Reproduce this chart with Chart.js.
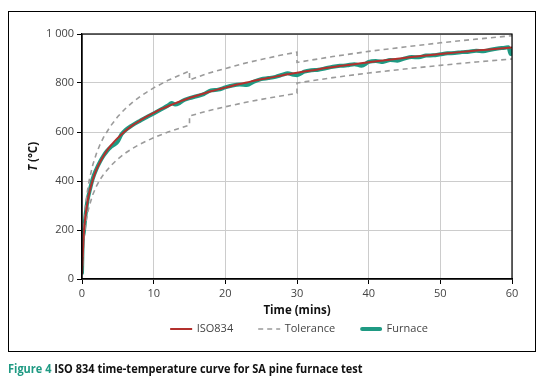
<!DOCTYPE html>
<html>
<head>
<meta charset="utf-8">
<script src="https://cdn.jsdelivr.net/npm/chart.js@4.4.1/dist/chart.umd.min.js"></script>
<style>
  body { margin: 0; background: #fff; width: 544px; height: 390px; overflow: hidden; position: relative; }
  #frame { position: absolute; left: 8px; top: 11px; width: 528px; height: 341px; box-sizing: border-box; border: 1px solid #000; pointer-events: none; }
  #c { position: absolute; left: 0; top: 0; }
  #caption { position: absolute; left: 8px; top: 360px; font-family: "Open Sans", sans-serif; font-weight: bold; font-size: 12.5px; color: #111; white-space: nowrap; transform: scaleX(0.88); transform-origin: left center; }
  #caption span { color: #1f9a83; }
</style>
</head>
<body>
<canvas id="c" width="544" height="352"></canvas>
<div id="frame"></div>
<div id="caption"><span>Figure 4</span> ISO 834 time-temperature curve for SA pine furnace test</div>
<script>
// ISO 834 standard curve
const isoTime = [0, 0.25, 0.5, 0.75, 1, 1.5, 2, 2.5, 3, 3.5, 4, 4.5, 5, 5.5, 6, 7, 8, 9, 10, 11, 12, 13, 14, 15,
  16, 17, 18, 19, 20, 21, 22, 23, 24, 25, 26, 27, 28, 29, 30, 32, 34, 36, 38, 40, 42, 44, 46, 48, 50, 52, 54, 56, 58, 60];
const isoTemp = [20, 185, 261, 312, 349, 404, 445, 476, 502, 525, 544, 561, 576, 590, 603, 626, 645, 663, 678, 693, 705, 717, 728, 739,
  748, 757, 766, 774, 781, 789, 796, 802, 809, 815, 820, 826, 832, 837, 842, 851, 861, 869, 877, 885, 892, 899, 906, 912, 918, 924, 930, 935, 940, 945];

// measured furnace temperature
const furnaceTime = [0, 0.1, 0.25, 0.5, 0.75, 1, 1.5, 2, 2.5, 3, 3.5, 4, 4.5, 5, 5.5, 6, 7, 8, 9, 10, 11, 12, 12.5, 13, 13.5, 14, 15,
  16, 17, 18, 19, 20, 21, 22, 23, 24, 25, 26, 27, 28, 28.7, 29.5, 30, 31, 32, 33, 34, 35, 36, 37, 38, 39, 40,
  41, 42, 43, 44, 45, 46, 47, 48, 49, 50, 51, 52, 53, 54, 55, 56, 57, 58, 59, 59.5, 59.8, 60];
const furnaceTemp = [25, 155, 190, 262, 318, 352, 410, 448, 478, 503, 523, 538, 548, 562, 590, 606, 627, 644, 660, 676, 692, 708, 718, 712, 716, 727, 738,
  746, 755, 770, 773, 782, 790, 794, 792, 806, 816, 820, 825, 834, 840, 834, 832, 846, 852, 854, 860, 866, 870, 872, 877, 870, 886,
  890, 886, 894, 891, 900, 906, 905, 912, 913, 917, 921, 922, 926, 928, 932, 930, 936, 941, 944, 946, 918, 932];

// tolerance band: +/-15 % to 15 min, +/-10 % to 30 min, +/-5 % to 60 min
const tolUpperTime = [0, 0.25, 0.5, 0.75, 1, 1.5, 2, 2.5, 3, 4, 5, 6, 7, 8, 9, 10, 12, 15, 15, 17.5, 20, 22.5, 25, 27.5, 30, 30, 35, 40, 45, 50, 55, 60];
const tolUpperTemp = [23, 212, 300, 358, 402, 465, 511, 548, 578, 625, 663, 694, 720, 742, 762, 780, 811, 849, 812, 839, 859, 879, 896, 912, 926, 884, 908, 929, 947, 964, 979, 993];
const tolLowerTime = [0, 0.25, 0.5, 0.75, 1, 1.5, 2, 2.5, 3, 4, 5, 6, 7, 8, 9, 10, 12, 15, 15, 17.5, 20, 22.5, 25, 27.5, 30, 30, 35, 40, 45, 50, 55, 60];
const tolLowerTemp = [17, 157, 222, 265, 297, 344, 378, 405, 427, 462, 490, 513, 532, 549, 563, 577, 600, 628, 665, 686, 703, 719, 733, 746, 758, 800, 822, 841, 857, 872, 886, 898];

const xTicks = [0, 10, 20, 30, 40, 50, 60];
const yTickLabels = ['0', '200', '400', '600', '800', '1 000'];

const pts = (xs, ys) => xs.map((x, i) => ({ x: x, y: ys[i] }));
const tolPoints = pts(tolUpperTime, tolUpperTemp).concat([{ x: 60, y: null }], pts(tolLowerTime, tolLowerTemp));

const FONT = '"Open Sans", sans-serif';

// black box round the plot area
const plotBox = {
  id: 'plotBox',
  afterDatasetsDraw(chart) {
    const a = chart.chartArea, ctx = chart.ctx;
    ctx.save();
    ctx.strokeStyle = '#000';
    ctx.lineWidth = 1.2;
    ctx.strokeRect(a.left, a.top, a.right - a.left, a.bottom - a.top);
    ctx.restore();
  }
};

// y title with italic T
const yTitle = {
  id: 'yTitle',
  afterDraw(chart) {
    const a = chart.chartArea, ctx = chart.ctx;
    const fi = 'italic bold 11.5px ' + FONT, fb = 'bold 11.5px ' + FONT;
    ctx.save();
    ctx.translate(34, (a.top + a.bottom) / 2);
    ctx.rotate(-Math.PI / 2);
    ctx.fillStyle = '#111';
    ctx.textBaseline = 'middle';
    ctx.textAlign = 'left';
    ctx.font = fi;
    const w1 = ctx.measureText('T').width;
    ctx.font = fb;
    const w2 = ctx.measureText(' (°C)').width;
    const x = -(w1 + w2) / 2;
    ctx.font = fi;
    ctx.fillText('T', x, 0);
    ctx.font = fb;
    ctx.fillText(' (°C)', x + w1, 0);
    ctx.restore();
  }
};

// legend row under the axis title, centred on the plot
const lineLegend = {
  id: 'lineLegend',
  afterDraw(chart) {
    const a = chart.chartArea, ctx = chart.ctx;
    const sample = 22, gap = 4.5, spacing = 25, y = 329;
    ctx.save();
    ctx.font = '11px ' + FONT;
    ctx.textBaseline = 'middle';
    const sets = chart.data.datasets;
    const widths = sets.map(d => sample + gap + ctx.measureText(d.label).width);
    const total = widths.reduce((s, w) => s + w, 0) + spacing * (sets.length - 1);
    let x = (a.left + a.right) / 2 - total / 2 + 2;
    sets.forEach((d, i) => {
      ctx.strokeStyle = d.borderColor;
      ctx.lineWidth = d.borderWidth;
      ctx.lineCap = d.borderCapStyle || 'butt';
      ctx.setLineDash(d.borderDash || []);
      const inset = d.borderCapStyle === 'round' ? d.borderWidth / 2 : 0;
      ctx.beginPath();
      ctx.moveTo(x + inset, y);
      ctx.lineTo(x + sample - inset, y);
      ctx.stroke();
      ctx.setLineDash([]);
      ctx.fillStyle = '#444';
      ctx.fillText(d.label, x + sample + gap, y);
      x += widths[i] + spacing;
    });
    ctx.restore();
  }
};

new Chart(document.getElementById('c'), {
  type: 'scatter',
  data: {
    datasets: [
      {
        label: 'ISO834',
        data: pts(isoTime, isoTemp),
        showLine: true,
        borderColor: '#b3302d',
        borderWidth: 2,
        pointRadius: 0,
        cubicInterpolationMode: 'monotone'
      },
      {
        label: 'Tolerance',
        data: tolPoints,
        showLine: true,
        borderColor: '#9b9b9b',
        borderWidth: 1.6,
        borderDash: [5, 4],
        pointRadius: 0,
        tension: 0,
        spanGaps: false
      },
      {
        label: 'Furnace',
        data: pts(furnaceTime, furnaceTemp),
        showLine: true,
        borderColor: '#1f9a83',
        borderWidth: 4,
        borderCapStyle: 'round',
        pointRadius: 0,
        cubicInterpolationMode: 'monotone'
      }
    ]
  },
  options: {
    responsive: false,
    animation: false,
    layout: { padding: { left: 0, right: 32, top: 34, bottom: 0 } },
    plugins: {
      tooltip: { enabled: false },
      legend: { display: false }
    },
    scales: {
      x: {
        type: 'linear',
        min: 0,
        max: 60,
        afterBuildTicks: s => { s.ticks = xTicks.map(v => ({ value: v })); },
        ticks: { color: '#444', font: { family: FONT, size: 11 }, padding: 3 },
        grid: { color: '#cccccc', tickColor: '#000', tickLength: 5 },
        border: { color: '#000', width: 1.2 },
        title: { display: true, text: 'Time (mins)', color: '#111', font: { family: FONT, size: 11.5, weight: 'bold' }, padding: { top: 2, bottom: 34 } },
        afterFit: s => { s.height = 73; }
      },
      y: {
        min: 0,
        max: 1000,
        ticks: { stepSize: 200, color: '#444', font: { family: FONT, size: 11 }, padding: 3,
          callback: (v, i) => yTickLabels[i] },
        grid: { color: '#cccccc', tickColor: '#000', tickLength: 5 },
        border: { color: '#000', width: 1.2 },
        afterFit: s => { s.width = 82; }
      }
    }
  },
  plugins: [plotBox, yTitle, lineLegend]
});
</script>
</body>
</html>
